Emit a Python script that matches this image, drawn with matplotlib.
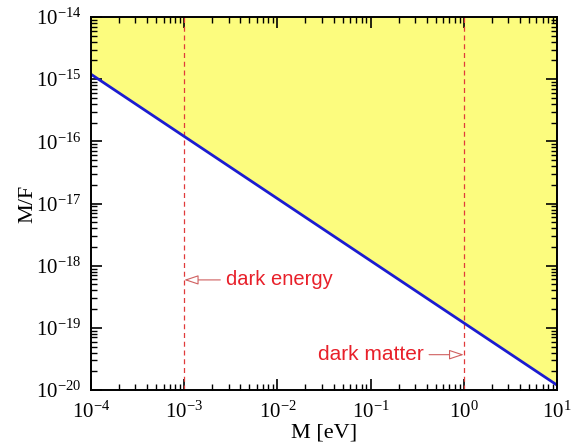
import matplotlib
matplotlib.use("Agg")
import matplotlib.pyplot as plt
import numpy as np

# mass range and the bound M/F = c / M
mass = [1e-4, 1e1]
ratio = [1.2e-15, 1.2e-20]
y_top = 1e-14

markers = [1e-3, 1e0]
labels = ["dark energy", "dark matter"]
label_y = [5.9e-19, 3.7e-20]

plt.rcParams["font.family"] = ["Liberation Serif", "DejaVu Serif"]
plt.rcParams["mathtext.fontset"] = "custom"
plt.rcParams["mathtext.rm"] = "Liberation Serif"

fig = plt.figure(figsize=(5.71, 4.48), dpi=100)
ax = fig.add_axes([91 / 571, 1 - 390 / 448, 466 / 571, 373 / 448])

ax.fill_between(mass, ratio, [y_top, y_top], color="#fcfc7e", lw=0, zorder=1)
ax.plot(mass, ratio, color="#1c1cd0", lw=2, zorder=3)
for xm in markers:
    ax.axvline(xm, color="#e03a3a", lw=0.9, ls=(0, (4, 3)), zorder=2)

ax.set_xscale("log")
ax.set_yscale("log")
ax.set_xlim(1e-4, 1e1)
ax.set_ylim(1e-20, 1e-14)

arrow = dict(arrowstyle="-|>,head_length=0.6,head_width=0.2", color="#d06060",
             lw=0.8, fc="white", shrinkA=2, shrinkB=0)
ax.annotate(labels[0], xy=(markers[0], label_y[0]), xytext=(30, 0),
            textcoords="offset points", ha="left", va="center",
            color="#e8202a", fontsize=14.5, family="Liberation Sans",
            arrowprops=arrow, zorder=4)
ax.annotate(labels[1], xy=(markers[1], label_y[1]), xytext=(-29, 0),
            textcoords="offset points", ha="right", va="center",
            color="#e8202a", fontsize=15, family="Liberation Sans",
            arrowprops=arrow, zorder=4)

ax.set_xlabel("M [eV]", fontsize=16, labelpad=1)
ax.set_ylabel("M/F", fontsize=16, labelpad=-1)
ax.tick_params(which="both", direction="in", top=True, right=True, labelsize=15)
ax.tick_params(which="major", length=8, width=1.2)
ax.tick_params(which="minor", length=4, width=1)
ax.tick_params(axis="x", pad=8)
ax.tick_params(axis="y", pad=7)
for s in ax.spines.values():
    s.set_linewidth(1.4)
    s.set_zorder(5)

fig.savefig("out.png", dpi=100)
